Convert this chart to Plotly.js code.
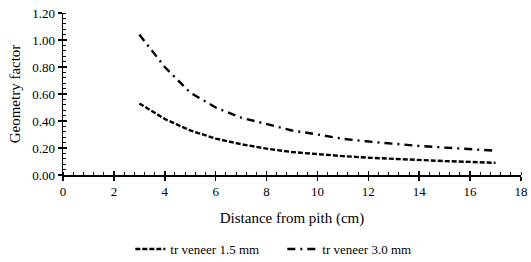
<!DOCTYPE html>
<html>
<head>
<meta charset="utf-8">
<script src="https://cdn.plot.ly/plotly-3.0.1.min.js"></script>
<style>html,body{margin:0;padding:0;background:#fff;}#chart{width:531px;height:262px;}</style>
</head>
<body>
<div id="chart"></div>
<script>
const distance = [3, 4, 5, 6, 7, 8, 9, 10, 11, 12, 13, 14, 15, 16, 17];
const veneer15 = [0.53, 0.415, 0.33, 0.27, 0.228, 0.195, 0.17, 0.153, 0.14, 0.128, 0.118, 0.11, 0.103, 0.097, 0.09];
const veneer30 = [1.04, 0.80, 0.61, 0.50, 0.425, 0.375, 0.33, 0.30, 0.268, 0.248, 0.23, 0.215, 0.203, 0.19, 0.18];
const seriesNames = ["tr veneer 1.5 mm", "tr veneer 3.0 mm"];
const xTicks = [0, 2, 4, 6, 8, 10, 12, 14, 16, 18];
const yTicks = [0, 0.2, 0.4, 0.6, 0.8, 1.0, 1.2];
const yTickText = ["0.00", "0.20", "0.40", "0.60", "0.80", "1.00", "1.20"];

const font = {family: "Liberation Serif, Times New Roman, serif", color: "#000"};

const traces = [
  {x: distance, y: veneer15, name: seriesNames[0], mode: "lines", type: "scatter",
   line: {color: "#000", width: 2.4, dash: "5px,2px"}},
  {x: distance, y: veneer30, name: seriesNames[1], mode: "lines", type: "scatter",
   line: {color: "#000", width: 2.4, dash: "8px,5px,2px,5px"}}
];

const baseX = {range: [0, 18], tickvals: xTicks, showgrid: false, zeroline: false,
  showline: true, linecolor: "#000", linewidth: 1.5, fixedrange: true, automargin: false};
const baseY = {range: [0, 1.2], tickvals: yTicks, showgrid: false, zeroline: false,
  showline: true, linecolor: "#000", linewidth: 1.5, fixedrange: true, automargin: false};

const layout = {
  width: 531, height: 262,
  margin: {l: 63, r: 10, t: 13, b: 87, autoexpand: false},
  paper_bgcolor: "#fff", plot_bgcolor: "#fff",
  font: Object.assign({size: 13}, font),
  showlegend: true,
  legend: {orientation: "h", x: 0.147, xanchor: "left", y: -0.457, yanchor: "middle",
    font: Object.assign({size: 13}, font), itemwidth: 30, entrywidth: 107, entrywidthmode: "pixels",
    tracegroupgap: 0},
  xaxis: Object.assign({}, baseX, {
    ticks: "outside", ticklen: 4, tickwidth: 1.5, tickcolor: "#000",
    tickfont: Object.assign({size: 13}, font),
    minor: {ticks: "inside", ticklen: 3, dtick: 0.4, tick0: 0, tickcolor: "#000", tickwidth: 1},
    title: {text: "Distance from pith (cm)", font: Object.assign({size: 15}, font), standoff: 14}
  }),
  yaxis: Object.assign({}, baseY, {
    ticks: "outside", ticklen: 4, tickwidth: 1.5, tickcolor: "#000",
    tickvals: yTicks, ticktext: yTickText,
    tickfont: Object.assign({size: 13}, font),
    minor: {ticks: "inside", ticklen: 3, dtick: 0.04, tick0: 0, tickcolor: "#000", tickwidth: 1},
    title: {text: "Geometry factor", font: Object.assign({size: 15}, font), standoff: 8}
  }),
  xaxis2: Object.assign({}, baseX, {overlaying: "x", anchor: "y", side: "bottom",
    ticks: "inside", ticklen: 4, tickwidth: 1.5, tickcolor: "#000", showticklabels: false, showline: false}),
  yaxis2: Object.assign({}, baseY, {overlaying: "y", anchor: "x", side: "left",
    ticks: "inside", ticklen: 4, tickwidth: 1.5, tickcolor: "#000", showticklabels: false, showline: false})
};

// invisible trace to activate overlay axes
traces.push({x: [0], y: [0], xaxis: "x2", yaxis: "y2", mode: "markers",
  marker: {opacity: 0}, showlegend: false, hoverinfo: "skip"});

Plotly.newPlot("chart", traces, layout, {displayModeBar: false, staticPlot: true});
</script>
</body>
</html>
